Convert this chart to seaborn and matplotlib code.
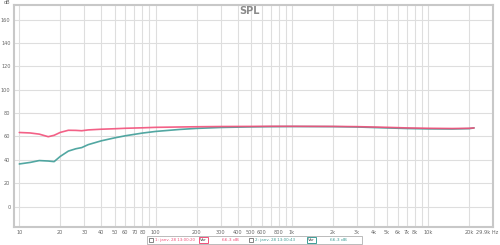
import numpy as np
import pandas as pd
import seaborn as sns
import matplotlib
matplotlib.use("Agg")
import matplotlib.pyplot as plt
from matplotlib.patches import Rectangle

# ---- data ----
freq = [10, 12, 14, 16.3, 18, 20, 22.9, 26, 28.7, 32, 40, 50, 60, 80, 100, 150,
        200, 300, 500, 700, 1000, 2000, 3000, 5000, 7000, 10000, 15000, 20000, 21700]
spl_1 = [63.4, 63.0, 62.0, 59.8, 61.0, 63.5, 65.3, 65.2, 64.9, 65.6, 66.2, 66.6, 67.0,
         67.4, 67.8, 68.1, 68.3, 68.5, 68.6, 68.7, 68.7, 68.6, 68.4, 67.8, 67.3, 67.0,
         66.8, 67.0, 67.3]
spl_2 = [36.5, 37.8, 39.4, 39.0, 38.5, 43.0, 47.5, 49.5, 50.5, 53.0, 56.3, 58.8, 60.6,
         62.9, 64.3, 66.0, 66.9, 67.7, 68.2, 68.4, 68.5, 68.4, 68.1, 67.3, 66.8, 66.5,
         66.4, 66.7, 67.3]
series_names = ["1: janv. 28 13:00:20", "2: janv. 28 13:00:43"]
series_levels = ["66.3 dB", "66.3 dB"]
x_tick_vals = [10, 20, 30, 40, 50, 60, 70, 80, 100, 200, 300, 400, 500, 600, 800,
               1000, 2000, 3000, 4000, 5000, 6000, 7000, 8000, 10000, 20000]
x_tick_labels = ["10", "20", "30", "40", "50", "60", "70", "80", "100", "200", "300",
                 "400", "500", "600", "800", "1k", "2k", "3k", "4k", "5k", "6k", "7k",
                 "8k", "10k", "20k"]
x_end_label = "29.9k Hz"
y_tick_vals = [0, 20, 40, 60, 80, 100, 120, 140, 160]

RED = "#f2507a"
TEAL = "#3f9e98"
GRAY = "#666666"

df = pd.DataFrame({
    "freq": freq * 2,
    "spl": spl_2 + spl_1,
    "series": [series_names[1]] * len(freq) + [series_names[0]] * len(freq),
})

sns.set_theme(style="white")
plt.rcParams["font.family"] = ["DejaVu Sans"]

fig = plt.figure(figsize=(5, 2.45), dpi=100)
ax = fig.add_axes([14 / 500, 1 - 227 / 245, (493 - 14) / 500, (227 - 5) / 245])

sns.lineplot(data=df, x="freq", y="spl", hue="series",
             palette={series_names[0]: RED, series_names[1]: TEAL},
             hue_order=[series_names[1], series_names[0]],
             linewidth=1.2, alpha=0.9, legend=False, ax=ax, sort=False)

ax.set_xscale("log")
ax.set_xlim(9.14, 29900)
ax.set_ylim(-17.4, 172.4)

# grid
minor = []
for dec in [10, 100, 1000, 10000]:
    for m in range(1, 10):
        v = dec * m
        if v <= 20000:
            minor.append(v)
for v in minor:
    ax.axvline(v, color="#dedede", lw=0.8, zorder=0)
for v in y_tick_vals:
    ax.axhline(v, color="#dedede", lw=0.8, zorder=0)

ax.set_xticks(x_tick_vals)
ax.set_xticklabels(x_tick_labels)
ax.xaxis.set_minor_locator(matplotlib.ticker.NullLocator())
ax.set_yticks(y_tick_vals)
ax.set_yticklabels([str(v) for v in y_tick_vals])
ax.tick_params(axis="both", length=0, labelsize=3.6, colors=GRAY, pad=2.5)
ax.set_xlabel("")
ax.set_ylabel("")

for s in ax.spines.values():
    s.set_color("#c8c8c8")
    s.set_linewidth(1.5)

fig.text(498 / 500, 1 - 232 / 245, x_end_label, fontsize=3.6, color=GRAY,
         ha="right", va="center")
fig.text(7 / 500, 1 - 2 / 245, "dB", fontsize=3.6, color=GRAY, ha="center", va="center")
fig.text(250 / 500, 1 - 11 / 245, "SPL", fontsize=7, color="#8a8a8a", ha="center",
         va="center", fontweight="bold")

# legend bar
H = 245
def fx(x):
    return x / 500
def fy(y):
    return 1 - y / H

fig.patches.append(Rectangle((fx(147), fy(244)), fx(362) - fx(147), (244 - 235.5) / H,
                             transform=fig.transFigure, facecolor="white",
                             edgecolor="#b0b0b0", lw=0.6))
cy = fy(240)
for i, (col, x0, xi, xl) in enumerate([(RED, 150.7, 203, 222), (TEAL, 250.7, 311, 330)]):
    fig.patches.append(Rectangle((fx(x0 - 2), cy - 2 / H), 4 / 500, 4 / H,
                                 transform=fig.transFigure, facecolor="white",
                                 edgecolor="#555555", lw=0.5))
    fig.text(fx(x0 + 4), cy, series_names[i], fontsize=2.9, color=col, ha="left", va="center")
    fig.patches.append(Rectangle((fx(xi - 4.5), cy - 3 / H), 9 / 500, 6 / H,
                                 transform=fig.transFigure, facecolor="white",
                                 edgecolor=col, lw=0.7))
    fig.text(fx(xi), cy, "Var", fontsize=2.9, color="#444444", ha="center", va="center")
    fig.text(fx(xl), cy, series_levels[i], fontsize=3.2, color=col, ha="left", va="center")

fig.savefig("out.png", dpi=100)
